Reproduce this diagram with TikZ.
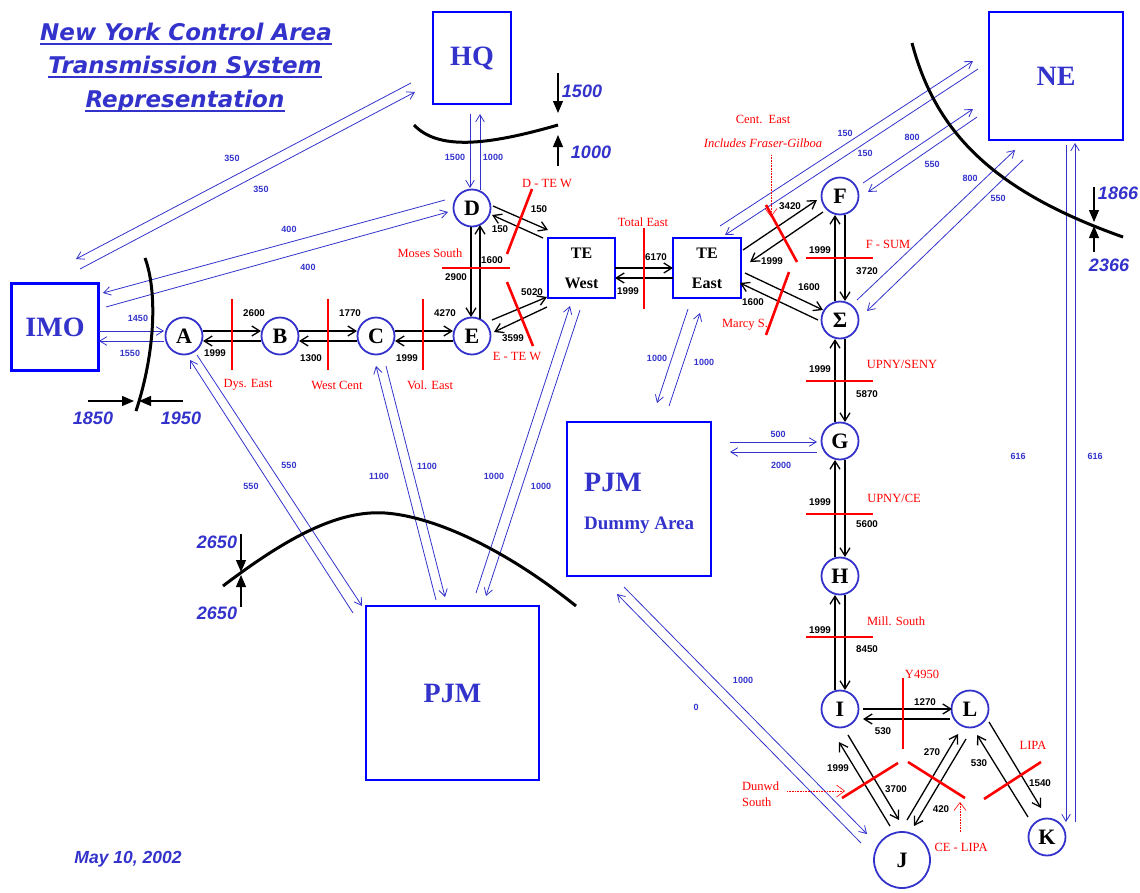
\documentclass[tikz,border=0pt]{standalone}
\usepackage{fontspec}
\setmainfont{Liberation Serif}
\newfontfamily\sansf{Liberation Sans}
\newfontfamily\verdf{DejaVu Sans}
\usetikzlibrary{arrows.meta,calc}
\definecolor{nyblue}{RGB}{51,51,204}
\definecolor{boxblue}{RGB}{0,0,255}
\definecolor{nyred}{RGB}{255,0,0}
\tikzset{
  bus/.style={circle,draw=nyblue,line width=1.8pt,minimum size=37pt,inner sep=0pt,font=\bfseries\fontsize{22}{22}\selectfont},
  areabox/.style={rectangle,draw=boxblue,line width=2.2pt,text=nyblue,inner sep=0pt,font=\bfseries\fontsize{28}{28}\selectfont},
  tebox/.style={rectangle,draw=boxblue,line width=2.2pt,inner sep=0pt,minimum width=67pt,minimum height=60pt,align=center,font=\bfseries\fontsize{16}{30}\selectfont},
  bk/.style={black,line width=1.3pt,-{Straight Barb[length=8pt,width=10pt]}},
  bl/.style={nyblue,line width=0.8pt,-{Straight Barb[length=7pt,width=8.5pt]}},
  bn/.style={font=\sansf\bfseries\fontsize{9.8}{10}\selectfont,inner sep=0pt},
  bln/.style={text=nyblue,font=\sansf\bfseries\fontsize{9}{10}\selectfont,inner sep=0pt},
  cutline/.style={nyred,line width=2.6pt},
  rl/.style={text=nyred,font=\fontsize{12.5}{16}\selectfont,inner sep=0pt},
  rli/.style={rl,font=\itshape\fontsize{12.5}{13}\selectfont},
  iface/.style={black,line width=3pt},
  limarrow/.style={black,line width=1.2pt,-{Triangle[length=12pt,width=10pt]}},
  lv/.style={text=nyblue,font=\sansf\bfseries\itshape\fontsize{18}{18}\selectfont,inner sep=0pt},
  ttl/.style={text=nyblue,font=\verdf\bfseries\itshape\fontsize{23}{23}\selectfont,anchor=base,inner sep=0pt},
  ptr/.style={nyred,line width=0.6pt,densely dotted,-{Straight Barb[length=8pt,width=12pt]}},
}
\begin{document}
\begin{tikzpicture}[x=1pt,y=-1pt]
\useasboundingbox (0,0) rectangle (1140,892);

% title
\node[ttl] (t1) at (186,40) {New York Control Area};
\node[ttl] (t2) at (185,73) {Transmission System};
\node[ttl] (t3) at (185,107) {Representation};
\foreach \t in {t1,t2,t3}
  \draw[nyblue,line width=2pt] ([yshift=-3.5pt]\t.base west) -- ([yshift=-3.5pt]\t.base east);
\node[lv,font=\sansf\bfseries\itshape\fontsize{17.5}{18}\selectfont] (date) at (128,859) {May 10, 2002};

% areas
\node[areabox,minimum width=78pt,minimum height=92pt] (HQ) at (472,58) {HQ};
\node[areabox,minimum width=134pt,minimum height=128pt] (NE) at (1056,76) {NE};
\node[areabox,minimum width=87pt,minimum height=87pt] (IMO) at (55,327) {IMO};
\node[areabox,minimum width=173pt,minimum height=174pt] (PJM) at (452.5,693) {PJM};
\node[areabox,minimum width=144pt,minimum height=154pt] (PJMD) at (639,499) {};
\node[text=nyblue,font=\bfseries\fontsize{28}{28}\selectfont,anchor=west,inner sep=0pt] (PJMDt) at (584,482) {PJM};
\node[text=nyblue,font=\bfseries\fontsize{19}{19}\selectfont,anchor=west,inner sep=0pt] (PJMDs) at (584,525) {Dummy Area};
\node[tebox] (TEW) at (581.5,268) {TE\\West};
\node[tebox,minimum width=68pt] (TEE) at (707,268) {TE\\East};

% buses
\node[bus] (A) at (184,336) {A};
\node[bus] (B) at (280,336) {B};
\node[bus] (C) at (376,336) {C};
\node[bus] (D) at (472,208) {D};
\node[bus] (E) at (472,336) {E};
\node[bus] (F) at (840,196) {F};
\node[bus] (S) at (840,320) {Σ};
\node[bus] (G) at (840,441) {G};
\node[bus] (H) at (840,576) {H};
\node[bus] (I) at (840,709) {I};
\node[bus] (L) at (970,709) {L};
\node[bus] (K) at (1047,837) {K};
\node[bus,minimum size=56pt] (J) at (902,860) {J};

% internal ties (black)
\draw[bk] ($(A)+(19,-5)$) -- ($(B)+(-19,-5)$) node[bn] at (254,313) {2600};
\draw[bk] ($(B)+(-19,5)$) -- ($(A)+(19,5)$) node[bn] at (215,353) {1999};
\draw[bk] ($(B)+(19,-5)$) -- ($(C)+(-19,-5)$) node[bn] at (350,313) {1770};
\draw[bk] ($(C)+(-19,5)$) -- ($(B)+(19,5)$) node[bn] at (311,358) {1300};
\draw[bk] ($(C)+(19,-5)$) -- ($(E)+(-19,-5)$) node[bn] at (445,313) {4270};
\draw[bk] ($(E)+(-19,5)$) -- ($(C)+(19,5)$) node[bn] at (407,358) {1999};
\draw[bk] ($(D)+(-1,19)$) -- ($(E)+(-1,-19)$) node[bn] at (456,277) {2900};
\draw[bk] ($(E)+(8,-17)$) -- ($(D)+(8,17)$) node[bn] at (492,260) {1600};
\draw[bk] ($(D)+(21,-2)$) -- ($(TEW)+(-33.5,-38)$) node[bn] at (539,209) {150};
\draw[bk] ($(TEW)+(-38.5,-30)$) -- ($(D)+(20,7)$) node[bn] at (500,229) {150};
\draw[bk] ($(E)+(20,-16)$) -- ($(TEW)+(-34.5,29)$) node[bn] at (532,292) {5020};
\draw[bk] ($(TEW)+(-34.5,39)$) -- ($(E)+(22,-4)$) node[bn] at (513,338) {3599};
\draw[bk] ($(TEW)+(33.5,0)$) -- ($(TEE)+(-34,0)$) node[bn] at (656,257) {6170};
\draw[bk] ($(TEE)+(-34,10)$) -- ($(TEW)+(33.5,10)$) node[bn] at (628,291) {1999};
\draw[bk] ($(TEE)+(36,-18)$) -- ($(F)+(-23,4)$) node[bn] at (790,206) {3420};
\draw[bk] ($(F)+(-17,16)$) -- ($(TEE)+(43,-6)$) node[bn] at (772,261) {1999};
\draw[bk] ($(TEE)+(38,5)$) -- ($(S)+(-17,-10)$) node[bn] at (809,287) {1600};
\draw[bk] ($(S)+(-22,0)$) -- ($(TEE)+(33,15)$) node[bn] at (753,302) {1600};
\draw[bk] ($(S)+(-5,-19)$) -- ($(F)+(-5,19)$) node[bn] at (820,250) {1999};
\draw[bk] ($(F)+(5,19)$) -- ($(S)+(5,-19)$) node[bn] at (867,271) {3720};
\draw[bk] ($(G)+(-5,-19)$) -- ($(S)+(-5,19)$) node[bn] at (820,369) {1999};
\draw[bk] ($(S)+(5,19)$) -- ($(G)+(5,-19)$) node[bn] at (867,394) {5870};
\draw[bk] ($(H)+(-5,-19)$) -- ($(G)+(-5,19)$) node[bn] at (820,502) {1999};
\draw[bk] ($(G)+(5,19)$) -- ($(H)+(5,-19)$) node[bn] at (867,524) {5600};
\draw[bk] ($(I)+(-5,-19)$) -- ($(H)+(-5,19)$) node[bn] at (820,630) {1999};
\draw[bk] ($(H)+(5,19)$) -- ($(I)+(5,-19)$) node[bn] at (867,649) {8450};
\draw[bk] ($(I)+(23,0)$) -- ($(L)+(-18,0)$) node[bn] at (925,702) {1270};
\draw[bk] ($(L)+(-20,10)$) -- ($(I)+(23,10)$) node[bn] at (883,731) {530};
\draw[bk] ($(J)+(-12,-34)$) -- ($(I)+(-1,33)$) node[bn] at (838,768) {1999};
\draw[bk] ($(I)+(8,26)$) -- ($(J)+(-3,-40)$) node[bn] at (896,789) {3700};
\draw[bk] ($(J)+(5,-40)$) -- ($(L)+(-12,25)$) node[bn] at (932,752) {270};
\draw[bk] ($(L)+(-4,30)$) -- ($(J)+(12,-34)$) node[bn] at (941,809) {420};
\draw[bk] ($(L)+(19,13)$) -- ($(K)+(-6,-29)$) node[bn] at (1040,783) {1540};
\draw[bk] ($(K)+(-19,-20)$) -- ($(L)+(7,26)$) node[bn] at (979,763) {530};

% external ties (blue)
\draw[bl] ($(HQ)+(-61,25)$) -- ($(IMO)+(21,-68)$) node[bln] at (232,158) {350};
\draw[bl] ($(IMO)+(25,-58)$) -- ($(HQ)+(-57,34)$) node[bln] at (261,189) {350};
\draw[bl] ($(D)+(-27,-8)$) -- ($(IMO)+(48,-34)$) node[bln] at (289,229) {400};
\draw[bl] ($(IMO)+(51,-20)$) -- ($(D)+(-24,4)$) node[bln] at (308,267) {400};
\draw[bl] ($(IMO)+(44,4)$) -- ($(A)+(-20,-5)$) node[bln] at (138,318) {1450};
\draw[bl] ($(A)+(-20,5)$) -- ($(IMO)+(44,14)$) node[bln] at (130,353) {1550};
\draw[bl] ($(HQ)+(-2,56)$) -- ($(D)+(-2,-20)$) node[bln] at (455,157) {1500};
\draw[bl] ($(D)+(8,-18)$) -- ($(HQ)+(8,56)$) node[bln] at (493,157) {1000};
\draw[bl] ($(A)+(13,19)$) -- ($(PJM)+(-90.5,-87)$) node[bln] at (289,465) {550};
\draw[bl] ($(PJM)+(-99.5,-80)$) -- ($(A)+(6,24)$) node[bln] at (251,486) {550};
\draw[bl] ($(C)+(10,30)$) -- ($(PJM)+(-7.5,-96)$) node[bln] at (427,466) {1100};
\draw[bl] ($(PJM)+(-16.5,-93)$) -- ($(C)+(0,30)$) node[bln] at (379,476) {1100};
\draw[bl] ($(PJM)+(23.5,-100)$) -- ($(TEW)+(-11.5,38)$) node[bln] at (494,476) {1000};
\draw[bl] ($(TEW)+(-1.5,42)$) -- ($(PJM)+(33.5,-97)$) node[bln] at (541,486) {1000};
\draw[bl] ($(TEE)+(-19,41)$) -- ($(PJMD)+(18,-96)$) node[bln] at (657,358) {1000};
\draw[bl] ($(PJMD)+(30,-93)$) -- ($(TEE)+(-7,45)$) node[bln] at (704,362) {1000};
\draw[bl] ($(PJMD)+(91,-57)$) -- ($(G)+(-23,1)$) node[bln] at (778,434) {500};
\draw[bl] ($(G)+(-23,11)$) -- ($(PJMD)+(91,-47)$) node[bln] at (781,465) {2000};
\draw[bl] ($(PJMD)+(-15,88)$) -- ($(J)+(-35,-26)$) node[bln] at (743,680) {1000};
\draw[bl] ($(J)+(-41,-17)$) -- ($(PJMD)+(-22,95)$) node[bln] at (696,707) {0};
\draw[bl] ($(TEE)+(13,-42)$) -- ($(NE)+(-83,-15)$) node[bln] at (845,133) {150};
\draw[bl] ($(NE)+(-78,-7)$) -- ($(TEE)+(18,-33)$) node[bln] at (865,153) {150};
\draw[bl] ($(F)+(23,-13)$) -- ($(NE)+(-83,33)$) node[bln] at (912,137) {800};
\draw[bl] ($(NE)+(-79,41)$) -- ($(F)+(28,-4)$) node[bln] at (932,164) {550};
\draw[bl] ($(S)+(17,-20)$) -- ($(NE)+(-41,74)$) node[bln] at (970,178) {800};
\draw[bl] ($(NE)+(-33,84)$) -- ($(S)+(27,-9)$) node[bln] at (998,198) {550};
\draw[bl] ($(NE)+(10,69)$) -- ($(K)+(19,-15)$) node[bln] at (1018,456) {616};
\draw[bl] ($(K)+(28,-15)$) -- ($(NE)+(19,67)$) node[bln] at (1095,456) {616};

% interfaces (red)
\draw[cutline] (232,299) -- (232,370);
\node[rl] (dys) at (248,385) {Dys. East};
\draw[cutline] (328,299) -- (328,370);
\node[rl] (wcent) at (337,385) {West Cent};
\draw[cutline] (423,299) -- (423,370);
\node[rl] (vol) at (430,385) {Vol. East};
\draw[cutline] (442,268) -- (510,268);
\node[rl] (moses) at (430,253) {Moses South};
\draw[cutline] (532,189) -- (507,254);
\node[rl] (dtew) at (547,183) {D - TE W};
\draw[cutline] (507,282) -- (533,346);
\node[rl] (etew) at (517,356) {E - TE W};
\draw[cutline] (644,228) -- (644,309);
\node[rl] (teast) at (643,222) {Total East};
\draw[cutline] (789,272) -- (766,335);
\node[rl] (marcy) at (745,325) {Marcy S.};
\draw[cutline] (766,205) -- (797,262);
\node[rl] (cent) at (763,119) {Cent.\ \ East};
\node[rli] (fg) at (763,143) {Includes Fraser-Gilboa};
\draw[ptr] (771,155) -- (771,217);
\draw[cutline] (806,258) -- (873,258);
\node[rl] (fsum) at (888,244) {F - SUM};
\draw[cutline] (806,381) -- (873,381);
\node[rl] (useny) at (902,364) {UPNY/SENY};
\draw[cutline] (806,514) -- (873,514);
\node[rl] (uce) at (894,498) {UPNY/CE};
\draw[cutline] (806,637) -- (873,637);
\node[rl] (mill) at (896,621) {Mill. South};
\draw[cutline] (903,678) -- (903,749);
\node[rl] (y4950) at (922,674) {Y4950};
\draw[cutline] (842,798) -- (898,763);
\node[rl,align=left,anchor=west] (dunwd) at (742,794) {Dunwd\\South};
\draw[ptr] (787,791) -- (845,791);
\draw[cutline] (908,762) -- (965,798);
\draw[ptr] (960,832) -- (960,802);
\node[rl] (celipa) at (961,847) {CE - LIPA};
\draw[cutline] (984,799) -- (1041,762);
\node[rl] (lipa) at (1033,745) {LIPA};

% external interfaces (black)
\draw[iface] (414,125) .. controls (438,150) and (485,146) .. (558,125);
\draw[limarrow] (558,73) -- (558,113);
\draw[limarrow] (558,166) -- (558,135);
\node[lv] (v1500) at (582,91) {1500};
\node[lv] (v1000) at (591,152) {1000};

\draw[iface] (145,258) .. controls (157,290) and (156,350) .. (136,411);
\draw[limarrow] (88,401) -- (134,401);
\draw[limarrow] (183,401) -- (139,401);
\node[lv] (v1850) at (93,418) {1850};
\node[lv] (v1950) at (181,418) {1950};

\draw[iface] (912,43) .. controls (935,130) and (990,190) .. (1123,237);
\draw[limarrow] (1094,187) -- (1094,222);
\draw[limarrow] (1094,252) -- (1094,226);
\node[lv] (v1866) at (1118,193) {1866};
\node[lv] (v2366) at (1109,265) {2366};

\draw[iface] (223,586) .. controls (290,535) and (340,510) .. (385,513) .. controls (430,516) and (500,545) .. (576,606);
\draw[limarrow] (241,534) -- (241,572);
\draw[limarrow] (241,607) -- (241,575);
\node[lv] (v2650a) at (217,542) {2650};
\node[lv] (v2650b) at (217,613) {2650};
\end{tikzpicture}
\end{document}
